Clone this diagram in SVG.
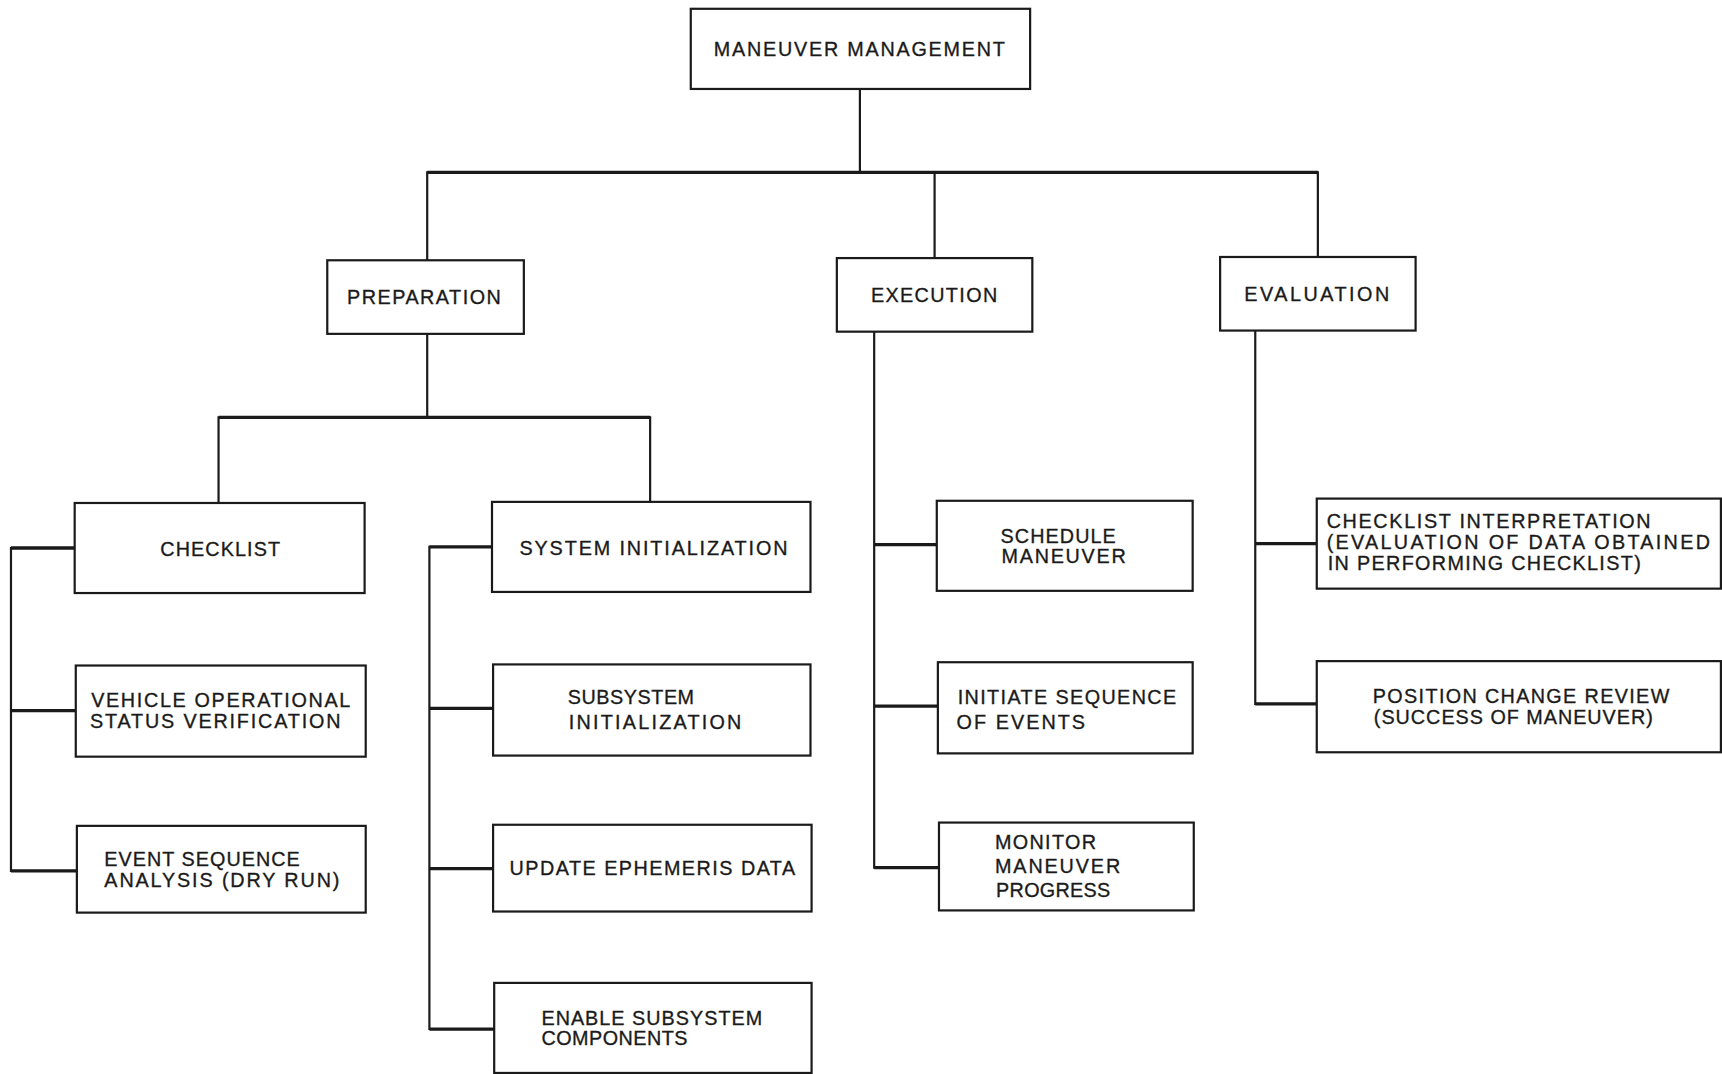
<svg xmlns="http://www.w3.org/2000/svg" width="1722" height="1074" viewBox="0 0 1722 1074">
<style>
.box{fill:#fff;stroke:#1a1a1a;stroke-width:2}
.t{font-family:"Liberation Sans",Arial,Helvetica,sans-serif;font-size:18px;fill:#1a1a1a;stroke:#1a1a1a;stroke-width:0.3}
.c{fill:none;stroke:#1a1a1a;stroke-width:2;stroke-linecap:square}
.h{fill:none;stroke:#1a1a1a;stroke-width:3}
</style>
<rect width="1722" height="1074" fill="#fff"/>
<g transform="scale(1.098214)">
<g id="connectors">
<path class="c" d="M783,81 V157"/>
<path class="h" d="M389,157 H1200"/>
<path class="c" d="M389,157 V237 M851,157 V235 M1200,157 V234"/>
<path class="c" d="M389,304 V380"/>
<path class="h" d="M199,380 H592"/>
<path class="c" d="M199,380 V458 M592,380 V457"/>
<path class="c" d="M10,499 V793"/>
<path class="h" d="M10,499 H68 M10,647 H69 M10,793 H70"/>
<path class="c" d="M391,498 V937"/>
<path class="h" d="M391,498 H448 M391,645 H449 M391,791 H449 M391,937 H450"/>
<path class="c" d="M796,302 V790"/>
<path class="h" d="M796,496 H853 M796,643 H854 M796,790 H855"/>
<path class="c" d="M1143,301 V641"/>
<path class="h" d="M1143,495 H1199 M1143,641 H1199"/>
</g>
<g id="maneuver-management">
<rect class="box" x="629" y="8" width="309" height="73"/>
<text class="t" x="650" y="51" textLength="265" lengthAdjust="spacing">MANEUVER MANAGEMENT</text>
</g>
<g id="preparation">
<rect class="box" x="298" y="237" width="179" height="67"/>
<text class="t" x="316" y="277" textLength="140" lengthAdjust="spacing">PREPARATION</text>
</g>
<g id="execution">
<rect class="box" x="762" y="235" width="178" height="67"/>
<text class="t" x="793" y="275" textLength="115" lengthAdjust="spacing">EXECUTION</text>
</g>
<g id="evaluation">
<rect class="box" x="1111" y="234" width="178" height="67"/>
<text class="t" x="1133" y="274" textLength="132" lengthAdjust="spacing">EVALUATION</text>
</g>
<g id="checklist">
<rect class="box" x="68" y="458" width="264" height="82"/>
<text class="t" x="146" y="506" textLength="109" lengthAdjust="spacing">CHECKLIST</text>
</g>
<g id="vehicle-status">
<rect class="box" x="69" y="606" width="264" height="83"/>
<text class="t" x="83" y="644" textLength="236" lengthAdjust="spacing">VEHICLE OPERATIONAL</text>
<text class="t" x="82" y="663" textLength="228" lengthAdjust="spacing">STATUS VERIFICATION</text>
</g>
<g id="event-sequence">
<rect class="box" x="70" y="752" width="263" height="79"/>
<text class="t" x="95" y="789" textLength="178" lengthAdjust="spacing">EVENT SEQUENCE</text>
<text class="t" x="95" y="808" textLength="214" lengthAdjust="spacing">ANALYSIS (DRY RUN)</text>
</g>
<g id="system-initialization">
<rect class="box" x="448" y="457" width="290" height="82"/>
<text class="t" x="473" y="505" textLength="244" lengthAdjust="spacing">SYSTEM INITIALIZATION</text>
</g>
<g id="subsystem-initialization">
<rect class="box" x="449" y="605" width="289" height="83"/>
<text class="t" x="517" y="641" textLength="115" lengthAdjust="spacing">SUBSYSTEM</text>
<text class="t" x="518" y="664" textLength="157" lengthAdjust="spacing">INITIALIZATION</text>
</g>
<g id="update-ephemeris">
<rect class="box" x="449" y="751" width="290" height="79"/>
<text class="t" x="464" y="797" textLength="260" lengthAdjust="spacing">UPDATE EPHEMERIS DATA</text>
</g>
<g id="enable-subsystem">
<rect class="box" x="450" y="895" width="289" height="82"/>
<text class="t" x="493" y="933" textLength="201" lengthAdjust="spacing">ENABLE SUBSYSTEM</text>
<text class="t" x="493" y="952" textLength="133" lengthAdjust="spacing">COMPONENTS</text>
</g>
<g id="schedule-maneuver">
<rect class="box" x="853" y="456" width="233" height="82"/>
<text class="t" x="911" y="494" textLength="105" lengthAdjust="spacing">SCHEDULE</text>
<text class="t" x="912" y="513" textLength="113" lengthAdjust="spacing">MANEUVER</text>
</g>
<g id="initiate-sequence">
<rect class="box" x="854" y="603" width="232" height="83"/>
<text class="t" x="872" y="641" textLength="199" lengthAdjust="spacing">INITIATE SEQUENCE</text>
<text class="t" x="871" y="664" textLength="117" lengthAdjust="spacing">OF EVENTS</text>
</g>
<g id="monitor-progress">
<rect class="box" x="855" y="749" width="232" height="80"/>
<text class="t" x="906" y="773" textLength="92" lengthAdjust="spacing">MONITOR</text>
<text class="t" x="906" y="795" textLength="114" lengthAdjust="spacing">MANEUVER</text>
<text class="t" x="907" y="817" textLength="104" lengthAdjust="spacing">PROGRESS</text>
</g>
<g id="checklist-interpretation">
<rect class="box" x="1199" y="454" width="368" height="82"/>
<text class="t" x="1208" y="481" textLength="295" lengthAdjust="spacing">CHECKLIST INTERPRETATION</text>
<text class="t" x="1208" y="500" textLength="349" lengthAdjust="spacing">(EVALUATION OF DATA OBTAINED</text>
<text class="t" x="1209" y="519" textLength="285" lengthAdjust="spacing">IN PERFORMING CHECKLIST)</text>
</g>
<g id="position-change-review">
<rect class="box" x="1199" y="602" width="368" height="83"/>
<text class="t" x="1250" y="640" textLength="270" lengthAdjust="spacing">POSITION CHANGE REVIEW</text>
<text class="t" x="1251" y="659" textLength="254" lengthAdjust="spacing">(SUCCESS OF MANEUVER)</text>
</g>
</g>
</svg>
